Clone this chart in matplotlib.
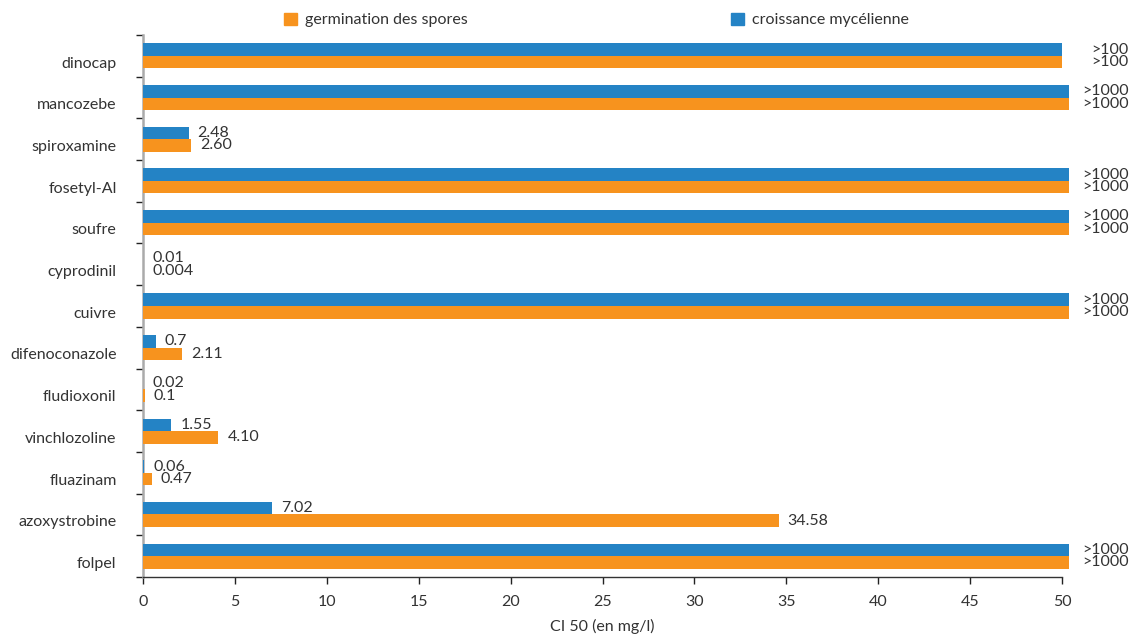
import matplotlib
matplotlib.use("Agg")
import matplotlib.pyplot as plt
from matplotlib.patches import Patch
from matplotlib.transforms import blended_transform_factory

plt.rcParams["font.family"] = ["Lato", "DejaVu Sans"]

# categories, top to bottom
produits = ["dinocap", "mancozebe", "spiroxamine", "fosetyl-Al", "soufre",
            "cyprodinil", "cuivre", "difenoconazole", "fludioxonil",
            "vinchlozoline", "fluazinam", "azoxystrobine", "folpel"]

# bar lengths (capped bars run to the edge)
mycelienne = [50.0, 50.4, 2.48, 50.4, 50.4, 0.01, 50.4, 0.7, 0.02, 1.55, 0.06, 7.02, 50.4]
spores = [50.0, 50.4, 2.60, 50.4, 50.4, 0.004, 50.4, 2.11, 0.1, 4.10, 0.47, 34.58, 50.4]

# printed labels
lab_mycelienne = [">100", ">1000", "2.48", ">1000", ">1000", "0.01", ">1000",
                  "0.7", "0.02", "1.55", "0.06", "7.02", ">1000"]
lab_spores = [">100", ">1000", "2.60", ">1000", ">1000", "0.004", ">1000",
              "2.11", "0.1", "4.10", "0.47", "34.58", ">1000"]

xticks = [0, 5, 10, 15, 20, 25, 30, 35, 40, 45, 50]

BLUE = "#2483c5"
ORANGE = "#f7931e"
TXT = "#333333"

fig = plt.figure(figsize=(11.3, 6.34), dpi=100)
ax = fig.add_axes([143 / 1130, 1 - 577 / 634, (1062 - 143) / 1130, (577 - 35) / 634])

pos = list(range(len(produits)))
h = 0.3
ax.barh([p - h / 2 for p in pos], mycelienne, height=h, color=BLUE, clip_on=False, zorder=3)
ax.barh([p + h / 2 for p in pos], spores, height=h, color=ORANGE, clip_on=False, zorder=3)

trans = blended_transform_factory(fig.transFigure, ax.transData)
for p, v, s in zip(pos, mycelienne, lab_mycelienne):
    if s.startswith(">"):
        ax.text(0.999, p - h / 2, s, transform=trans, ha="right", va="center",
                fontsize=11.5, color=TXT)
    else:
        ax.annotate(s, (v, p - h / 2), xytext=(6.5, 0), textcoords="offset points",
                    ha="left", va="center", fontsize=11.5, color=TXT)
for p, v, s in zip(pos, spores, lab_spores):
    if s.startswith(">"):
        ax.text(0.999, p + h / 2, s, transform=trans, ha="right", va="center",
                fontsize=11.5, color=TXT)
    else:
        ax.annotate(s, (v, p + h / 2), xytext=(6.5, 0), textcoords="offset points",
                    ha="left", va="center", fontsize=11.5, color=TXT)

ax.set_xlim(0, 50)
ax.set_ylim(len(produits) - 0.5, -0.5)

ax.set_yticks([p + 0.15 for p in pos])
ax.set_yticklabels(produits, fontsize=11.5, color=TXT)
ax.set_yticks([p - 0.5 for p in pos] + [len(produits) - 0.5], minor=True)
ax.tick_params(axis="y", which="major", length=0, pad=19)
ax.tick_params(axis="y", which="minor", length=5, width=1, color="#222222")

ax.set_xticks(xticks)
ax.set_xticklabels([str(t) for t in xticks], fontsize=11.5, color=TXT)
ax.tick_params(axis="x", length=5, width=1, color="#222222", pad=8)
ax.set_xlabel("CI 50 (en mg/l)", fontsize=11.5, color=TXT, labelpad=7)

for side in ["top", "right"]:
    ax.spines[side].set_visible(False)
ax.spines["left"].set_color("#aaaaaa")
ax.spines["left"].set_linewidth(1.8)
ax.spines["bottom"].set_color("#333333")
ax.spines["bottom"].set_linewidth(1)

handles = [Patch(color=ORANGE, label="germination des spores"),
           Patch(color=BLUE, label="croissance mycélienne")]
fig.legend(handles=handles, loc="center", bbox_to_anchor=(0.528, 1 - 20 / 634), ncol=2,
           frameon=False, fontsize=11.5, handlelength=0.8, handleheight=0.8,
           handletextpad=0.5, columnspacing=16.5, labelcolor=TXT)

fig.savefig("out.png", dpi=100)
